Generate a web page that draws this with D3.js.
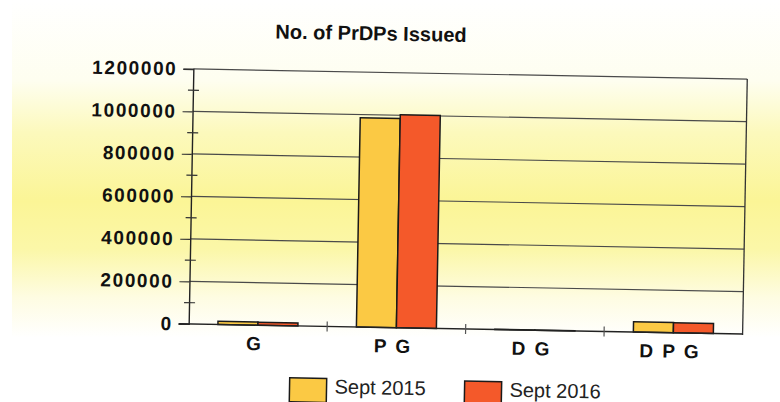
<!DOCTYPE html>
<html>
<head>
<meta charset="utf-8">
<script src="https://cdn.jsdelivr.net/npm/d3@7.9.0/dist/d3.min.js"></script>
<style>
  body { margin: 0; background: #fff; }
  svg { display: block; font-family: "Liberation Sans", Arial, sans-serif; }
</style>
</head>
<body>
<svg id="chart" width="780" height="402"></svg>
<script>
// data
const categories = ['G', 'P G', 'D G', 'D P G'];
const series = ['Sept 2015', 'Sept 2016'];
const sept2015 = [15000, 985000, 1500, 48000];
const sept2016 = [14000, 1002000, 1200, 47000];
const yTicks = [0, 200000, 400000, 600000, 800000, 1000000, 1200000];
const yMinorTicks = [100000, 300000, 500000, 700000, 900000, 1100000];
const colors = ['#fbc944', '#f4592a'];

const svg = d3.select('#chart');

// yellowish paper background
const defs = svg.append('defs');
const grad = defs.append('linearGradient').attr('id', 'bg')
  .attr('x1', 0).attr('y1', 0).attr('x2', 0).attr('y2', 1);
[[0, '#ffffff'], [0.2, '#fefef0'], [0.33, '#fcf9bc'], [0.5, '#fbf596'],
 [0.62, '#fbf7a8'], [0.74, '#fefce2'], [0.84, '#ffffff'], [1, '#ffffff']]
  .forEach(([o, c]) => grad.append('stop').attr('offset', o).attr('stop-color', c));
svg.append('rect').attr('x', 12).attr('y', 0).attr('width', 768).attr('height', 402)
  .attr('fill', 'url(#bg)');

// the scan is a little tilted
const g = svg.append('g').attr('transform', 'rotate(1.05, 468, 200)');

const plotL = 191, plotR = 745, plotT = 74, plotB = 329;

const x0 = d3.scaleBand().domain(categories).range([plotL, plotR]);
const x1 = d3.scaleBand().domain(series).range([0, 80]);
const y = d3.scaleLinear().domain([0, 1200000]).range([plotB, plotT]);
const off = (x0.bandwidth() - 80) / 2;

// title
g.append('text').attr('x', 368).attr('y', 42).attr('text-anchor', 'middle')
  .attr('font-size', 20).attr('font-weight', 'bold').attr('fill', '#111')
  .text('No. of PrDPs Issued');

// gridlines
g.append('g').selectAll('line').data(yTicks.filter(d => d > 0)).join('line')
  .attr('x1', plotL).attr('x2', plotR)
  .attr('y1', d => y(d)).attr('y2', d => y(d))
  .attr('stroke', '#4a4a4a').attr('stroke-width', 1.2);

// right border
g.append('line').attr('x1', plotR).attr('x2', plotR).attr('y1', plotT).attr('y2', plotB + 1)
  .attr('stroke', '#333').attr('stroke-width', 1.3);

// y axis
const yAxis = g.append('g').attr('transform', `translate(${plotL},0)`)
  .call(d3.axisLeft(y).tickValues(yTicks).tickSize(10).tickPadding(6).tickFormat(d3.format('d')));
yAxis.attr('font-family', null);
yAxis.select('.domain').attr('stroke', '#222').attr('stroke-width', 1.4);
yAxis.selectAll('.tick line').attr('stroke', '#333').attr('stroke-width', 1.2);
yAxis.selectAll('.tick text').attr('font-size', 19).attr('font-weight', 'bold')
  .attr('fill', '#111').style('letter-spacing', '1.6px');

// minor ticks across the axis
g.append('g').selectAll('line').data(yMinorTicks).join('line')
  .attr('x1', plotL - 5).attr('x2', plotL + 6)
  .attr('y1', d => y(d)).attr('y2', d => y(d))
  .attr('stroke', '#333').attr('stroke-width', 1.2);

// bars
const groups = g.append('g').selectAll('g').data(categories).join('g')
  .attr('transform', d => `translate(${x0(d) + off},0)`);
groups.selectAll('rect')
  .data((d, i) => [sept2015[i], sept2016[i]].map((v, j) => ({ key: series[j], v, j })))
  .join('rect')
  .attr('x', d => x1(d.key))
  .attr('width', x1.bandwidth())
  .attr('y', d => y(d.v))
  .attr('height', d => y(0) - y(d.v))
  .attr('fill', d => colors[d.j])
  .attr('stroke', '#1a1a1a').attr('stroke-width', 1.5);

// x axis baseline and ticks at band edges
g.append('line').attr('x1', plotL - 10).attr('x2', plotR).attr('y1', y(0)).attr('y2', y(0))
  .attr('stroke', '#222').attr('stroke-width', 1.4);
g.append('g').selectAll('line').data(categories.slice(1)).join('line')
  .attr('x1', d => x0(d)).attr('x2', d => x0(d))
  .attr('y1', y(0) - 5).attr('y2', y(0) + 5)
  .attr('stroke', '#555').attr('stroke-width', 1.2);

// category labels
g.append('g').selectAll('text').data(categories).join('text')
  .attr('x', d => x0(d) + x0.bandwidth() / 2 - 4)
  .attr('y', plotB + 25)
  .attr('text-anchor', 'middle')
  .attr('font-size', 19).attr('font-weight', 'bold').attr('fill', '#111')
  .style('word-spacing', '4px')
  .text(d => d);

// legend
const legend = g.append('g').selectAll('g').data(series).join('g')
  .attr('transform', (d, i) => `translate(${293 + i * 175},381)`);
legend.append('rect').attr('width', 37).attr('height', 24)
  .attr('fill', (d, i) => colors[i]).attr('stroke', '#1a1a1a').attr('stroke-width', 1.5);
legend.append('text').attr('x', 45).attr('y', 15)
  .attr('font-size', 20).attr('fill', '#222').text(d => d);
</script>
</body>
</html>
